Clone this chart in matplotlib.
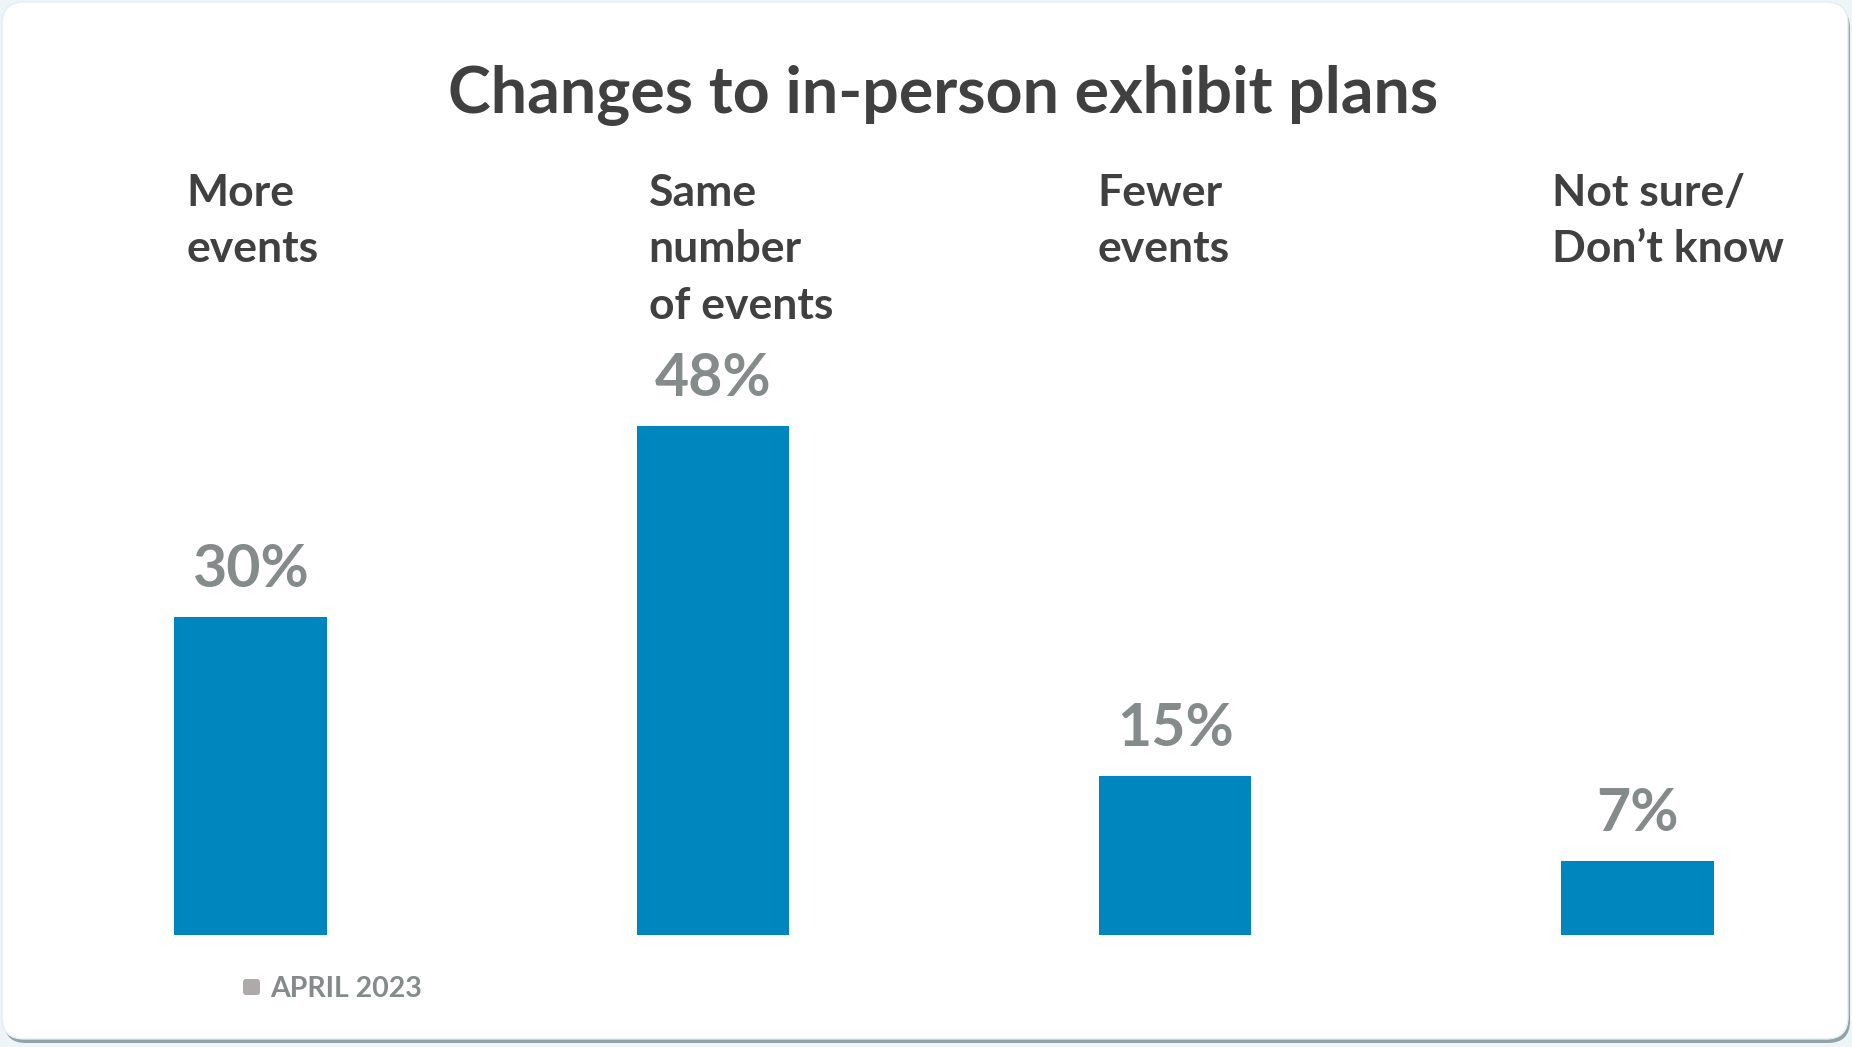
import matplotlib
matplotlib.use('Agg')
import matplotlib.pyplot as plt
import matplotlib.transforms as mtransforms
from matplotlib.patches import FancyBboxPatch

categories = ['More\nevents', 'Same\nnumber\nof events', 'Fewer\nevents', 'Not sure/\nDon\u2019t know']
values = [30, 48, 15, 7]
series_name = 'APRIL 2023'
title = 'Changes to in-person exhibit plans'

W, H, DPI = 1852, 1047, 100
BAR_COLOR = '#0086be'
DARK = '#404040'
GREY = '#858a8a'
FONT = 'Lato'

# small horizontal nudges (px) of the category headers from the bar edges
label_nudge = [12, 12, -1, -9]


def px(n):
    """ pixels -> points at this dpi """
    return n * 72.0 / DPI


fig = plt.figure(figsize=(W / DPI, H / DPI), dpi=DPI, facecolor='#eef5f9')

# background card, drawn in pixel coordinates (y down)
bg = fig.add_axes([0, 0, 1, 1])
bg.set_xlim(0, W)
bg.set_ylim(H, 0)
bg.set_axis_off()
bg.add_patch(FancyBboxPatch((4, 6), W - 6, H - 10, boxstyle='round,pad=0,rounding_size=22',
                            facecolor='#92a2aa', edgecolor='none'))
bg.add_patch(FancyBboxPatch((2, 2), W - 6, H - 10, boxstyle='round,pad=0,rounding_size=22',
                            facecolor='white', edgecolor='#e3eef4', linewidth=1))

bg.text(943, 113, title, ha='center', va='baseline', fontsize=px(64.5),
        fontweight='bold', color=DARK, family=FONT)

# legend entry
bg.add_patch(FancyBboxPatch((243, 979), 17, 16, boxstyle='round,pad=0,rounding_size=3',
                            facecolor='#aeaaaa', edgecolor='none'))
bg.text(270, 997, series_name, ha='left', va='baseline', fontsize=px(28.5),
        fontweight='bold', color=GREY, family=FONT)

# bars
ax = fig.add_axes([19.5 / W, 112 / H, 1849 / W, 848 / H])
ax.set_xlim(-0.5, len(values) - 0.5)
ax.set_ylim(0, 80)
ax.set_axis_off()
ax.patch.set_alpha(0)

width = 0.33
xs = list(range(len(values)))
bars = ax.bar(xs, values, width=width, color=BAR_COLOR, edgecolor='none')

for x, v in zip(xs, values):
    ax.annotate(f'{v}%', (x, v), xytext=(0, px(30)), textcoords='offset points',
                ha='center', va='baseline', fontsize=px(59), fontweight='bold',
                color=GREY, family=FONT)

header_tf = mtransforms.blended_transform_factory(ax.transData, fig.transFigure)
for x, lab, dx in zip(xs, categories, label_nudge):
    t = mtransforms.offset_copy(header_tf, fig=fig, x=px(dx), y=0, units='points')
    ax.text(x - width / 2, (H - 173) / H, lab, transform=t,
            ha='left', va='top', fontsize=px(44.5), fontweight='bold', color=DARK,
            family=FONT, linespacing=1.5)

fig.savefig('out.png', dpi=DPI, facecolor=fig.get_facecolor())
